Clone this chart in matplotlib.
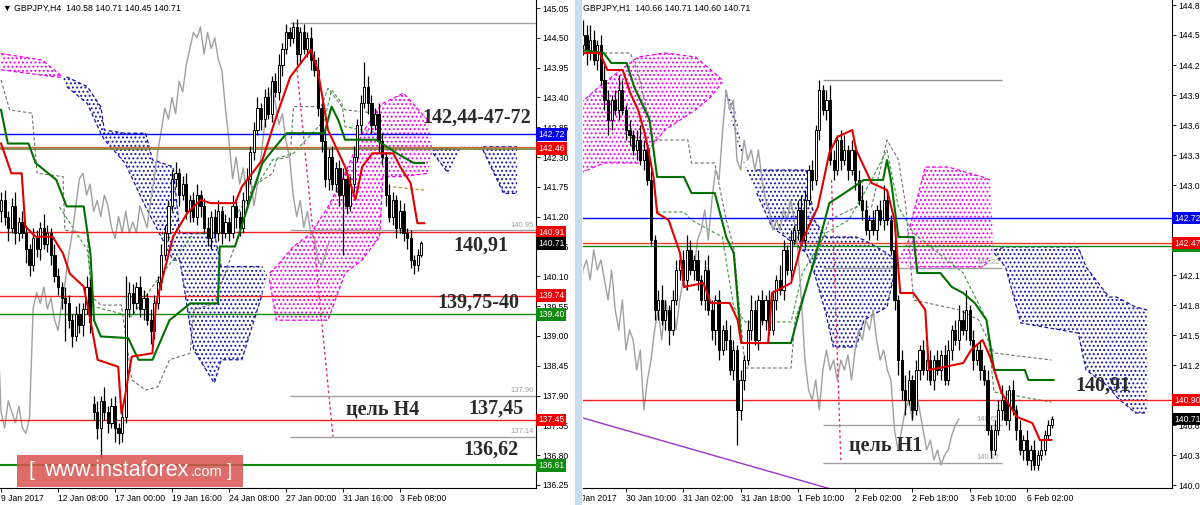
import numpy as np
import matplotlib
matplotlib.use('Agg')
import matplotlib.pyplot as plt
from matplotlib.patches import Rectangle
from matplotlib.transforms import Bbox, TransformedBbox

plt.rcParams['font.family'] = ['Liberation Sans', 'DejaVu Sans']
plt.rcParams['hatch.linewidth'] = 0.9

# ---------------- GBPJPY H4 (left) ----------------
h4_first_open = 141.30
h4_gap_open = {26: 137.75}
h4_close = [141.50, 141.20, 141.00, 141.40, 140.90, 141.10,
            140.90, 140.60, 140.30, 140.80, 140.60, 141.00, 140.70,
            140.90, 140.50, 140.10, 139.90, 139.70,
            139.60, 139.30, 139.00, 139.40, 139.20, 139.50, 139.90,
            139.25,
            137.60, 137.30, 137.80, 137.60, 137.40, 137.70, 137.30, 137.20, 137.50,
            139.50,
            139.80, 139.60, 139.90, 139.50, 139.70, 139.30, 139.10,
            139.60, 140.00, 140.50, 140.90, 141.40, 141.90,
            142.00, 141.60, 141.80, 141.30, 141.50, 141.20, 141.60, 141.40,
            141.00, 140.80, 141.20, 140.90, 141.30, 140.90, 141.10, 140.90, 141.40, 141.20, 141.00,
            141.50, 141.90, 142.40, 142.80, 143.20, 143.00,
            143.40, 143.10, 143.70, 143.50, 144.00, 144.30, 144.60,
            144.50, 144.70, 144.20, 144.60, 144.30, 144.50, 144.10,
            143.90, 143.20, 142.60, 141.90,
            142.30, 141.80, 142.10, 141.60, 141.90, 141.40,
            141.80, 142.30, 142.90, 143.30, 143.60,
            143.30, 142.90, 143.10, 142.60, 142.30,
            141.60, 141.20, 141.50, 141.00, 141.30, 140.90,
            140.80, 140.40, 140.30, 140.50, 140.71]
h4_up = [0.15, 0.20, 0.10, 0.15, 0.25, 0.10, 0.20, 0.15, 0.10, 0.20,
         0.15, 0.10, 0.25, 0.15, 0.10, 0.20, 0.15, 0.10, 0.20, 0.15,
         0.10, 0.15, 0.20, 0.10, 0.20, 0.15, 0.15, 0.20, 0.10, 0.25,
         0.10, 0.15, 0.20, 0.10, 0.15, 0.60, 0.20, 0.15, 0.10, 0.20,
         0.15, 0.10, 0.20, 0.15, 0.10, 0.20, 0.15, 0.10, 0.15, 0.20,
         0.10, 0.15, 0.20, 0.10, 0.15, 0.20, 0.10, 0.15, 0.20, 0.10,
         0.15, 0.20, 0.10, 0.15, 0.10, 0.20, 0.15, 0.10, 0.15, 0.20,
         0.10, 0.15, 0.20, 0.10, 0.15, 0.20, 0.10, 0.15, 0.20, 0.10,
         0.15, 0.10, 0.10, 0.15, 0.10, 0.15, 0.10, 0.20, 0.15, 0.25,
         0.10, 0.20, 0.15, 0.20, 0.10, 0.15, 0.20, 0.10, 0.15, 0.20,
         0.10, 0.15, 0.45, 0.20, 0.15, 0.10, 0.20, 0.15, 0.10, 0.20,
         0.15, 0.10, 0.20, 0.15, 0.10, 0.15, 0.10, 0.10, 0.05]
h4_dn = [0.20, 0.15, 0.25, 0.10, 0.20, 0.15, 0.10, 0.25, 0.20, 0.10,
         0.15, 0.20, 0.10, 0.15, 0.20, 0.10, 0.15, 0.20, 0.70, 0.15,
         0.20, 0.10, 0.15, 0.20, 0.10, 0.20, 0.15, 0.20, 0.55, 0.15,
         0.20, 0.10, 0.25, 0.20, 0.15, 0.10, 0.15, 0.20, 0.10, 0.15,
         0.20, 0.10, 0.25, 0.15, 0.10, 0.15, 0.10, 0.15, 0.10, 0.15,
         0.20, 0.10, 0.15, 0.20, 0.10, 0.15, 0.20, 0.10, 0.15, 0.20,
         0.10, 0.15, 0.20, 0.10, 0.15, 0.10, 0.20, 0.15, 0.10, 0.15,
         0.10, 0.15, 0.10, 0.20, 0.15, 0.10, 0.15, 0.10, 0.15, 0.20,
         0.10, 0.15, 0.10, 0.20, 0.15, 0.10, 0.15, 0.20, 0.10, 0.15,
         0.20, 0.15, 0.20, 0.10, 0.15, 0.20, 1.10, 0.15, 0.10, 0.15,
         0.10, 0.15, 0.10, 0.20, 0.15, 0.10, 0.20, 0.15, 0.20, 0.10,
         0.15, 0.20, 0.10, 0.15, 0.20, 0.15, 0.15, 0.10, 0.05]

h4_tenkan_x = [0, 2.9, 5.8, 6.8, 9.7, 14.5, 17.4, 19.3, 23.2, 25.1, 27.1, 32.9, 33.8, 34.8,
               35.7, 36.7, 42.5, 43.5, 48.3, 52.2, 56.0, 58.9, 65.7, 67.6, 73.4, 77.3, 81.2,
               84.1, 87.0, 88.9, 91.8, 96.6, 99.5, 101.4, 104.3, 110.1, 112.1, 115.0, 116.9, 118.8]
h4_tenkan_y = [142.55, 142.00, 142.00, 141.02, 140.83, 140.83, 140.52, 140.15, 139.91, 139.29,
               138.56, 138.43, 137.57, 137.88, 138.25, 138.62, 138.68, 139.60, 140.83, 141.26,
               141.51, 141.45, 141.45, 141.75, 142.25, 143.05, 143.78, 144.03, 144.28, 143.91,
               142.80, 142.12, 141.51, 142.12, 142.37, 142.37, 142.12, 141.82, 141.08, 141.08]
h4_kijun_x = [0, 1.9, 7.7, 9.7, 15.5, 18.4, 23.2, 25.1, 26.1, 28.0, 35.7, 38.6, 42.5, 47.3,
              53.1, 60.9, 61.4, 65.7, 69.6, 73.4, 76.3, 80.2, 90.8, 92.8, 94.7, 96.6, 105.3,
              111.1, 115.9, 118.8]
h4_kijun_y = [143.17, 142.55, 142.55, 142.19, 141.88, 141.39, 141.39, 140.52, 139.29, 138.99,
              138.96, 138.56, 138.56, 139.29, 139.60, 139.60, 140.65, 140.65, 141.45, 142.19,
              142.43, 142.74, 142.74, 143.23, 142.98, 142.62, 142.62, 142.37, 142.19, 142.19]
h4_cloud_x = [0, 11.6, 16.9, 18.4, 24.2, 28.0, 29.0, 34.8, 40.6, 42.5, 48.3, 50.2, 54.1, 59.9,
              61.8, 67.6, 73.4, 75.4, 77.3, 82.1, 87.0, 91.8, 96.6, 101.4, 106.3, 107.2, 113.0,
              119.8, 121.3, 125.6, 129.5, 135.3, 141.1, 144.9]
h4_span_a = [144.21, 144.09, 143.80, 143.60, 143.29, 142.74, 142.62, 142.19, 141.38, 141.14,
             140.40, 140.40, 138.74, 138.13, 138.56, 138.56, 139.79, 140.16, 140.28, 140.65,
             140.89, 141.38, 142.00, 142.74, 143.23, 143.29, 143.48, 142.98, 142.37, 142.00,
             142.49, 142.43, 141.63, 141.63]
h4_span_b = [143.91, 143.81, 143.77, 143.78, 143.60, 143.23, 142.80, 142.74, 142.74, 142.25,
             142.12, 140.89, 140.89, 140.89, 140.28, 140.28, 140.28, 140.03, 139.29, 139.29,
             139.29, 139.29, 140.16, 140.40, 140.83, 141.94, 141.94, 142.00, 142.43, 142.46,
             142.49, 142.49, 142.49, 142.49]
h4_gray_x = [0, 2.4, 8.7, 10.1, 17.4, 17.9, 24.2, 25.3, 28.0, 33.8, 36.7, 40.6, 44.0, 47.3,
             53.1, 54.1, 59.9, 67.6, 70.5, 76.3, 77.3, 81.2, 82.1, 89.9, 91.8, 95.7, 96.6, 105.3]
h4_gray_y = [143.72, 143.17, 143.11, 142.00, 141.94, 140.95, 140.89, 139.73, 139.57, 139.57,
             138.19, 138.00, 138.06, 138.56, 138.68, 139.48, 139.60, 141.02, 141.75, 142.00,
             142.25, 142.31, 143.23, 143.23, 143.57, 143.23, 143.17, 143.11]
h4_green_x = [16.4, 24.2, 26.1, 36.7, 42.5, 45.4, 54.1, 61.8, 67.6, 73.4, 76.3, 82.1, 90.8,
              92.8, 95.7, 96.6, 106.3]
h4_green_y = [141.38, 140.59, 139.54, 139.36, 139.91, 140.16, 140.89, 140.89, 141.38, 141.94,
              142.25, 142.37, 142.98, 143.54, 143.29, 142.86, 142.74]
h4_brown_x = [110.1, 118.8]
h4_brown_y = [141.75, 141.69]
h4_pink_x = [83.1, 93.2]
h4_pink_y = [143.91, 137.14]

h4_yticks = [145.05, 144.50, 143.95, 143.40, 142.85, 142.30, 141.75, 141.20, 140.65,
             140.10, 139.55, 139.00, 138.45, 137.90, 137.35, 136.80, 136.25]
h4_xticks = [0, 16, 32, 48, 64, 80, 96, 112]
h4_xlabels = ['9 Jan 2017', '12 Jan 08:00', '17 Jan 00:00', '19 Jan 16:00',
              '24 Jan 08:00', '27 Jan 00:00', '31 Jan 16:00', '3 Feb 08:00']
h4_boxes = [142.72, 142.46, 140.91, 140.71, 139.74, 139.40, 137.45, 136.61]
h4_box_txt = ['142.72', '142.46', '140.91', '140.71', '139.74', '139.40', '137.45', '136.61']
h4_box_col = ['#0000ee', '#ee0000', '#ee0000', '#000000', '#ee0000', '#108a10', '#ee0000', '#108a10']

# ---------------- GBPJPY H1 (right) ----------------
h1_first_bar = 4
h1_first_open = 144.45
h1_close = [144.55, 144.40, 144.50, 144.30, 144.45,
            144.10, 143.90, 143.70, 143.90, 143.80, 144.00, 143.80, 143.60,
            143.55, 143.40, 143.50, 143.30, 143.40, 143.10,
            142.50, 141.80,
            141.90, 141.70, 141.80, 141.60, 141.90,
            142.20, 142.30, 142.10, 142.40, 142.20, 142.30,
            142.10, 141.90, 142.20, 141.80, 141.60, 141.90,
            141.40, 141.60,
            141.50, 141.20, 141.40, 140.80, 141.10,
            141.30, 141.60, 141.80, 141.50, 141.90, 141.70, 141.90, 141.60,
            141.90, 142.10, 142.00, 142.40, 142.20, 142.50, 142.60,
            142.80, 142.50, 142.90, 143.20, 143.10,
            143.60, 144.00, 143.80, 143.90,
            143.30, 143.20, 143.50, 143.30, 143.40, 143.20,
            143.40, 143.10, 142.90, 142.80, 142.60, 142.70,
            142.60, 142.80, 142.70, 142.90, 142.70,
            142.40, 141.90, 141.30,
            141.00, 140.90, 141.10, 140.80, 141.20,
            141.40, 141.20, 141.30, 141.10, 141.30, 141.20, 141.35, 141.10,
            141.40, 141.60, 141.50, 141.70, 141.60, 141.80, 141.50,
            141.30, 141.40, 141.20, 141.10,
            140.60, 140.40, 140.60,
            140.80, 140.90, 140.70, 141.00, 140.80,
            140.60, 140.40, 140.50, 140.30, 140.40, 140.25, 140.35,
            140.40, 140.55, 140.65, 140.71]
h1_up = [0.15, 0.10, 0.15, 0.10, 0.05,
         0.10, 0.15, 0.10, 0.05, 0.10, 0.15, 0.10, 0.05,
         0.10, 0.05, 0.10, 0.15, 0.10, 0.05,
         0.10, 0.05,
         0.10, 0.15, 0.10, 0.05, 0.10,
         0.10, 0.05, 0.10, 0.15, 0.10, 0.05,
         0.10, 0.05, 0.10, 0.15, 0.10, 0.05,
         0.10, 0.05,
         0.10, 0.15, 0.10, 0.05, 0.10,
         0.05, 0.10, 0.15, 0.10, 0.05, 0.10, 0.05, 0.10,
         0.10, 0.05, 0.15, 0.10, 0.05, 0.10, 0.05,
         0.10, 0.15, 0.10, 0.05, 0.10,
         0.05, 0.10, 0.05, 0.10,
         0.15, 0.10, 0.05, 0.10, 0.15, 0.05,
         0.10, 0.05, 0.10, 0.15, 0.10, 0.05,
         0.10, 0.05, 0.10, 0.15, 0.10,
         0.05, 0.10, 0.05,
         0.10, 0.15, 0.10, 0.05, 0.10,
         0.05, 0.10, 0.15, 0.10, 0.05, 0.10, 0.05, 0.10,
         0.10, 0.05, 0.10, 0.15, 0.10, 0.20, 0.05,
         0.10, 0.05, 0.10, 0.05,
         0.10, 0.05, 0.10,
         0.10, 0.15, 0.10, 0.05, 0.10,
         0.05, 0.10, 0.05, 0.10, 0.05, 0.10, 0.05,
         0.10, 0.05, 0.05, 0.03]
h1_dn = [0.10, 0.15, 0.10, 0.05, 0.10,
         0.05, 0.10, 0.15, 0.10, 0.05, 0.10, 0.05, 0.10,
         0.10, 0.05, 0.10, 0.05, 0.10, 0.05,
         0.05, 0.10,
         0.10, 0.05, 0.10, 0.15, 0.05,
         0.05, 0.10, 0.05, 0.10, 0.05, 0.10,
         0.10, 0.05, 0.10, 0.05, 0.10, 0.15,
         0.10, 0.05,
         0.10, 0.05, 0.10, 0.35, 0.10,
         0.10, 0.05, 0.10, 0.05, 0.10, 0.05, 0.10, 0.05,
         0.05, 0.10, 0.05, 0.10, 0.05, 0.10, 0.05,
         0.10, 0.05, 0.10, 0.05, 0.10,
         0.05, 0.10, 0.05, 0.10,
         0.05, 0.10, 0.05, 0.10, 0.05, 0.10,
         0.05, 0.10, 0.05, 0.10, 0.05, 0.10,
         0.05, 0.10, 0.05, 0.10, 0.05,
         0.05, 0.10, 0.15,
         0.10, 0.15, 0.05, 0.10, 0.05,
         0.10, 0.05, 0.10, 0.05, 0.10, 0.05, 0.10, 0.05,
         0.05, 0.10, 0.05, 0.10, 0.05, 0.10, 0.05,
         0.10, 0.05, 0.10, 0.05,
         0.05, 0.08, 0.05,
         0.05, 0.10, 0.05, 0.10, 0.05,
         0.10, 0.05, 0.10, 0.05, 0.10, 0.05, 0.05,
         0.05, 0.05, 0.05, 0.03]

h1_tenkan_x = [3.35, 8.7, 10.8, 15.1, 17.2, 19.4, 21.5, 23.7, 24.7, 27.9, 31.1, 32.2, 37.6,
               39.7, 45.0, 47.2, 48.2, 55.7, 56.8, 62.1, 65.3, 69.6, 72.8, 75.0, 79.2, 80.3,
               84.6, 88.9, 91.0, 92.6, 96.3, 99.6, 100.6, 104.9, 110.2, 112.4, 115.6, 117.7,
               120.9, 125.2, 129.5, 131.6, 134.8]
h1_tenkan_y = [144.37, 144.37, 144.20, 144.20, 143.97, 143.80, 143.53, 143.13, 142.77, 142.70,
               142.37, 142.03, 142.07, 141.87, 141.87, 141.70, 141.47, 141.47, 141.97, 142.07,
               142.50, 142.83, 143.37, 143.53, 143.60, 143.40, 143.07, 143.00, 142.70, 141.97,
               141.97, 141.80, 141.20, 141.23, 141.27, 141.40, 141.50, 141.33, 140.97, 140.73,
               140.67, 140.50, 140.50]
h1_kijun_x = [3.35, 9.8, 11.9, 16.2, 18.3, 22.6, 24.7, 32.2, 34.3, 40.8, 44.0, 46.1, 48.2,
              62.1, 64.3, 68.6, 72.8, 77.1, 82.4, 87.8, 88.9, 90.0, 92.1, 96.3, 97.4, 103.8,
              107.0, 110.2, 113.4, 116.7, 118.8, 127.4, 128.4, 135.4]
h1_kijun_y = [144.40, 144.37, 144.27, 144.27, 144.03, 143.70, 143.13, 143.13, 142.97, 142.97,
              142.53, 142.37, 141.47, 141.47, 141.77, 142.30, 142.87, 142.97, 143.10, 143.10,
              143.30, 143.10, 142.53, 142.53, 142.17, 142.17, 142.03, 141.97, 141.87, 141.70,
              141.20, 141.20, 141.10, 141.10]
h1_cloud_x = [3.35, 9.76, 19.4, 26.9, 35.4, 39.7, 42.9, 46.1, 49.3, 52.5, 56.8, 66.4, 68.6,
              71.8, 73.9, 80.3, 82.5, 88.9, 91.0, 95.3, 99.6, 106.0, 115.6, 117.7, 118.8,
              122.0, 126.3, 142.3, 144.5, 150.9, 153.0, 158.3, 161.6]
h1_span_a = [143.87, 144.07, 144.33, 144.37, 144.33, 144.20, 144.10, 143.60, 143.23, 142.97,
             142.63, 142.37, 142.17, 141.77, 141.43, 141.43, 141.70, 141.83, 142.17, 142.63,
             143.23, 143.23, 143.13, 143.10, 142.37, 142.23, 141.67, 141.57, 141.20, 141.03,
             140.93, 140.77, 140.77]
h1_span_b = [143.17, 143.27, 143.27, 143.60, 143.80, 143.93, 144.08, 143.87, 143.23, 143.20,
             143.20, 143.20, 142.70, 142.53, 142.53, 142.53, 142.50, 142.37, 142.30, 142.23,
             142.23, 142.23, 142.23, 142.30, 142.40, 142.43, 142.43, 142.43, 142.23, 141.93,
             141.93, 141.83, 141.80]
h1_gray_x = [9.8, 17.2, 19.4, 23.7, 33.3, 34.3, 40.8, 44.0, 46.1, 49.3, 62.1, 63.2, 69.6,
             72.8, 80.3, 84.6, 88.9, 92.1, 94.2, 96.3, 109.2, 114.5, 118.8, 134.8]
h1_gray_y = [144.37, 144.37, 144.17, 143.50, 143.50, 143.27, 143.27, 142.70, 142.43, 141.22,
             141.22, 141.70, 142.37, 142.70, 142.83, 142.83, 143.50, 143.30, 142.83, 141.90,
             141.80, 141.70, 141.37, 141.30]
h1_green_x = [24.7, 32.2, 34.3, 42.9, 46.1, 49.3, 62.1, 65.3, 71.8, 78.2, 84.6, 88.9, 92.1,
              96.3, 110.2, 116.7, 118.8, 134.8]
h1_green_y = [142.78, 142.78, 142.70, 142.53, 141.83, 141.68, 141.68, 142.17, 142.57, 142.70,
              143.10, 143.40, 142.83, 142.57, 142.17, 141.70, 140.98, 140.88]
h1_pink_x = [73.4, 76.0]
h1_pink_y = [143.10, 140.30]
h1_trend_x = [4.0, 80.0]
h1_trend_y = [140.72, 139.94]

h1_yticks = [144.85, 144.55, 144.25, 143.95, 143.65, 143.35, 143.05, 142.75, 142.45,
             142.15, 141.85, 141.55, 141.25, 140.95, 140.65, 140.35, 140.05]
h1_hidden = [142.75, 142.45, 140.95]   # tick labels covered by the price boxes
h1_xticks = [16, 32, 48, 64, 80, 96, 112, 128]
h1_xlabels = ['30 Jan 10:00', '31 Jan 02:00', '31 Jan 18:00', '1 Feb 10:00',
              '2 Feb 02:00', '2 Feb 18:00', '3 Feb 10:00', '6 Feb 02:00']
h1_boxes = [142.72, 142.44, 142.47, 140.90, 140.71]
h1_box_txt = ['142.72', '142.44', '142.47', '140.90', '140.71']
h1_box_col = ['#0000ee', '#108a10', '#ee0000', '#ee0000', '#000000']

MAG = '#f000f0'
BLU = '#1414a8'


def candles(ax, first, first_open, closes, up, dn, gaps):
    c = np.array(closes)
    o = np.r_[first_open, c[:-1]]
    for k, v in gaps.items():
        o[k - first] = v
    x = np.arange(first, first + len(c))
    hi = np.maximum(o, c) + np.array(up)
    lo = np.minimum(o, c) - np.array(dn)
    ax.vlines(x, lo, hi, color='black', lw=0.9, zorder=5)
    bull = c >= o
    h = np.maximum(np.abs(c - o), 0.015)
    ax.bar(x[bull], h[bull], bottom=o[bull], width=0.62, facecolor='white',
           edgecolor='black', lw=0.7, zorder=6)
    ax.bar(x[~bull], h[~bull], bottom=c[~bull], width=0.62, facecolor='black',
           edgecolor='black', lw=0.7, zorder=6)
    return x, c


def cloud(ax, xs, a, b):
    xs, a, b = np.asarray(xs), np.asarray(a), np.asarray(b)
    up = a >= b
    ax.fill_between(xs, a, b, where=up, interpolate=True, facecolor='none',
                    edgecolor=MAG, hatch='....', lw=0, zorder=1)
    ax.fill_between(xs, a, b, where=~up, interpolate=True, facecolor='none',
                    edgecolor=BLU, hatch='....', lw=0, zorder=1)
    for arr in (a, b):
        ax.plot(xs, np.where(up, arr, np.nan), color=MAG, ls=(0, (3, 2)), lw=0.9, zorder=1)
        ax.plot(xs, np.where(~up, arr, np.nan), color=BLU, ls=(0, (3, 2)), lw=0.9, zorder=1)


def style(ax, yticks, xticks, xlabels, hidden=()):
    ax.set_facecolor('white')
    ax.yaxis.tick_right()
    ax.set_yticks(yticks)
    ax.set_yticklabels(['' if v in hidden else '%.2f' % v for v in yticks])
    ax.set_xticks(xticks)
    ax.set_xticklabels(xlabels)
    for lb in ax.get_xticklabels():
        lb.set_horizontalalignment('left')
    ax.tick_params(axis='both', labelsize=6.2, length=3, width=0.6, pad=1.5, colors='black')
    for s in ('top', 'left'):
        ax.spines[s].set_visible(False)
    for s in ('bottom', 'right'):
        ax.spines[s].set_linewidth(0.8)


def boxes(ax, vals, txts, cols):
    for v, t, c in zip(vals, txts, cols):
        ax.text(1.004, v, t, transform=ax.get_yaxis_transform(), ha='left', va='center',
                fontsize=6.2, color='white', zorder=20, clip_on=False,
                bbox=dict(boxstyle='square,pad=0.22', fc=c, ec='none'))


def big(ax, x, y, t):
    ax.text(x, y, t, ha='center', va='center', fontsize=14.5, fontweight='bold',
            family='Liberation Serif', color='#2a2a2a', zorder=15)


fig = plt.figure(figsize=(12, 5.05), dpi=100, facecolor='white')
ax1 = fig.add_axes([0, 17 / 505, 536 / 1200, 488 / 505])
ax2 = fig.add_axes([583 / 1200, 17 / 505, 589 / 1200, 488 / 505])

# ---- left panel ----
ax1.set_xlim(-0.3, 150.2)
ax1.set_ylim(136.194, 145.198)
cloud(ax1, h4_cloud_x, h4_span_a, h4_span_b)
x4, c4 = candles(ax1, 0, h4_first_open, h4_close, h4_up, h4_dn, h4_gap_open)
ax1.plot(x4 - 26, c4, color='#a0a0a0', lw=1, zorder=3)
ax1.plot(h4_gray_x, h4_gray_y, color='#707070', ls=(0, (3, 2)), lw=0.8, zorder=2)
ax1.plot(h4_green_x, h4_green_y, color='#3a9a3a', ls=(0, (3, 2)), lw=0.8, zorder=2)
ax1.plot(h4_brown_x, h4_brown_y, color='#b8860b', ls=(0, (3, 2)), lw=0.8, zorder=2)
ax1.plot(h4_kijun_x, h4_kijun_y, color='#007000', lw=1.5, zorder=7)
ax1.plot(h4_tenkan_x, h4_tenkan_y, color='#e00000', lw=1.5, zorder=7)
ax1.plot(h4_pink_x, h4_pink_y, color='#e0307a', ls=(0, (2, 2)), lw=1, zorder=4)

ax1.axhline(142.72, color='#0000ff', lw=1, zorder=4)
ax1.axhline(142.48, color='#cc7040', lw=1, zorder=4)
ax1.axhline(142.44, color='#7a7a3a', lw=1.2, zorder=4)
ax1.axhline(140.91, color='#ee2020', lw=1, zorder=4)
ax1.axhline(139.74, color='#ee2020', lw=1, zorder=4)
ax1.axhline(139.40, color='#108a10', lw=1, zorder=4)
ax1.axhline(137.45, color='#ee2020', lw=1, zorder=4)
ax1.axhline(136.61, color='#108a10', lw=1.5, zorder=4)
for lv, tx in [(144.78, ''), (140.95, '140.95'), (137.90, '137.90'), (137.14, '137.14')]:
    ax1.hlines(lv, 81, 150.2, color='#a0a0a0', lw=1, zorder=4)
    if tx:
        ax1.text(149.6, lv + 0.03, tx, ha='right', va='bottom', fontsize=5.5, color='#a0a0a0')

style(ax1, h4_yticks, h4_xticks, h4_xlabels)
boxes(ax1, h4_boxes, h4_box_txt, h4_box_col)
big(ax1, 133.6, 143.02, '142,44-47-72')
big(ax1, 134.7, 140.66, '140,91')
big(ax1, 133.9, 139.61, '139,75-40')
big(ax1, 107.0, 137.65, 'цель H4')
big(ax1, 139.0, 137.65, '137,45')
big(ax1, 137.5, 136.90, '136,62')

# ---- right panel ----
ax2.set_xlim(4.0, 168.5)
ax2.set_ylim(140.02, 144.90)
cloud(ax2, h1_cloud_x, h1_span_a, h1_span_b)
x1, c1 = candles(ax2, h1_first_bar, h1_first_open, h1_close, h1_up, h1_dn, {})
ax2.plot(x1 - 26, c1, color='#a0a0a0', lw=1, zorder=3)
ax2.plot(h1_gray_x, h1_gray_y, color='#707070', ls=(0, (3, 2)), lw=0.8, zorder=2)
ax2.plot(h1_green_x, h1_green_y, color='#3a9a3a', ls=(0, (3, 2)), lw=0.8, zorder=2)
ax2.plot(h1_kijun_x, h1_kijun_y, color='#007000', lw=1.5, zorder=7)
ax2.plot(h1_tenkan_x, h1_tenkan_y, color='#e00000', lw=1.5, zorder=7)
ax2.plot(h1_pink_x, h1_pink_y, color='#e0307a', ls=(0, (2, 2)), lw=1, zorder=4)
ax2.plot(h1_trend_x, h1_trend_y, color='#9933cc', lw=1, zorder=4)

ax2.axhline(142.72, color='#0000ff', lw=1, zorder=4)
ax2.axhline(142.47, color='#ee4020', lw=1, zorder=4)
ax2.axhline(142.44, color='#108a10', lw=1, zorder=4)
ax2.axhline(140.90, color='#ee2020', lw=1, zorder=4)
ax2.hlines(144.10, 71, 121, color='#909090', lw=1, zorder=4)
for lv, tx in [(142.22, '142.22'), (140.65, '140.65'), (140.27, '140.27')]:
    ax2.hlines(lv, 71, 121, color='#a0a0a0', lw=1, zorder=4)
    ax2.text(120.5, lv + 0.02, tx, ha='right', va='bottom', fontsize=5.5, color='#a0a0a0')

style(ax2, h1_yticks, h1_xticks, h1_xlabels, h1_hidden)
boxes(ax2, h1_boxes, h1_box_txt, h1_box_col)
big(ax2, 149.2, 141.04, '140,91')
big(ax2, 88.6, 140.45, 'цель H1')

# first date label of the H1 panel, partly hidden at the panel's left edge
t0 = ax2.text(0, -0.012, '27 Jan 2017', transform=ax2.get_xaxis_transform(),
              ha='left', va='top', fontsize=6.2)
t0.set_clip_box(TransformedBbox(Bbox([[0, -0.2], [1, 1]]), ax2.transAxes))
t0.set_clip_on(True)

# separator between the two charts
fig.add_artist(Rectangle((575 / 1200, 0), 7 / 1200, 1, transform=fig.transFigure,
                         facecolor='#c9dcee', edgecolor='none', zorder=0))

# headers
fig.text(3 / 1200, 1 - 8 / 505, '▼ GBPJPY,H4  140.58 140.71 140.45 140.71',
         fontsize=6.3, va='center', ha='left')
fig.text(583 / 1200, 1 - 8 / 505, 'GBPJPY,H1  140.66 140.71 140.60 140.71',
         fontsize=6.3, va='center', ha='left')

# watermark
fig.add_artist(Rectangle((17 / 1200, 1 - 487 / 505), 226 / 1200, 32 / 505,
                         transform=fig.transFigure, facecolor='#d9534f', alpha=0.85,
                         edgecolor='none', zorder=30))
fig.text(28 / 1200, 1 - 471 / 505, '[', fontsize=15, color='white',
         va='center', ha='left', zorder=31)
fig.text(44 / 1200, 1 - 471 / 505, 'www.instaforex', fontsize=15.5, color='white',
         va='center', ha='left', zorder=31)
fig.text(191 / 1200, 1 - 476 / 505, '.com', fontsize=10.5, color='white',
         va='baseline', ha='left', zorder=31)
fig.text(227 / 1200, 1 - 471 / 505, ']', fontsize=13, color='white',
         va='center', ha='left', zorder=31)

fig.savefig('out.png', dpi=100, facecolor='white')
